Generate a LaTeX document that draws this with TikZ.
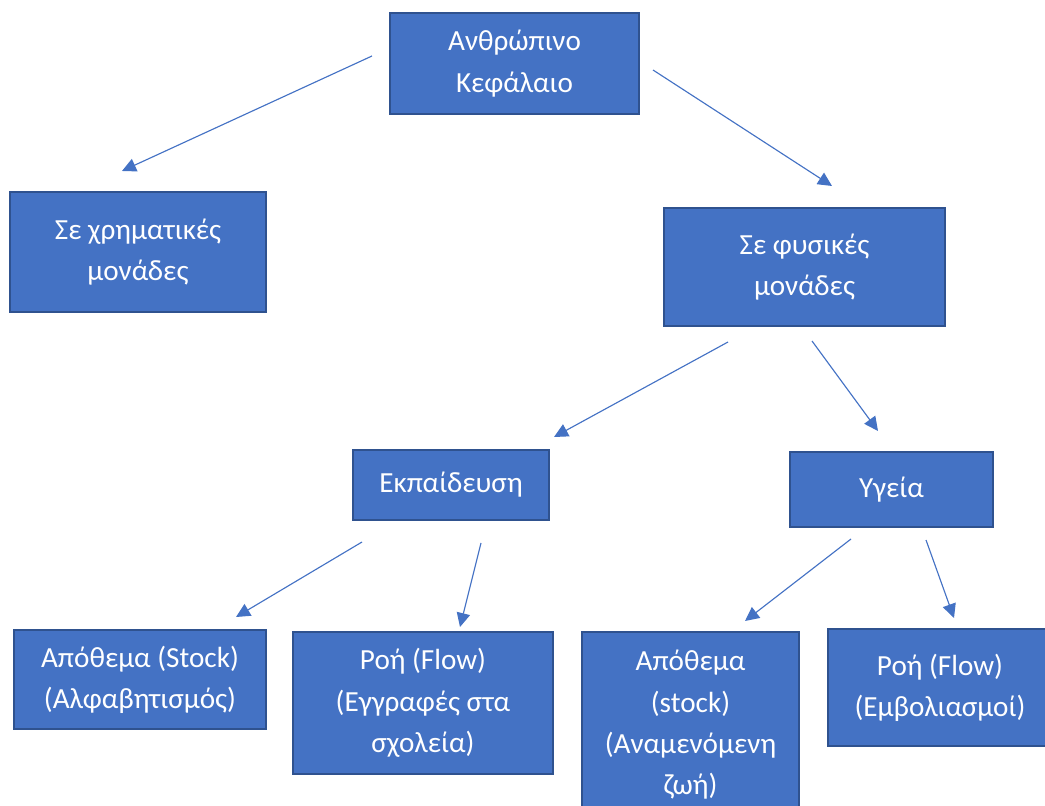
\documentclass[tikz,border=0pt]{standalone}
\usepackage{fontspec}
\setmainfont{Carlito}
\usetikzlibrary{arrows.meta}
\definecolor{boxblue}{HTML}{4472C4}
\definecolor{boxedge}{HTML}{2F528F}
\begin{document}
\begin{tikzpicture}[
        box/.style={draw=boxedge,line width=1.1pt,fill=boxblue,text=white,
                    align=center,inner sep=0pt,
                    font=\fontsize{16.6}{23.5}\selectfont},
        link/.style={draw=boxblue,line width=0.65pt,
                     -{Triangle[length=0.28cm,width=0.27cm]}}]
                            % Frame
                            \useasboundingbox (0,0) rectangle (20.9,16.1);

                            % Boxes
                            \node[box,minimum width=4.98cm,minimum height=2.02cm] (capital) at (10.29,14.83) {Ανθρώπινο\\Κεφάλαιο};
                            \node[box,minimum width=5.12cm,minimum height=2.40cm] (money) at (2.76,11.06) {Σε χρηματικές\\μονάδες};
                            \node[box,minimum width=5.62cm,minimum height=2.36cm] (physical) at (16.09,10.76) {Σε φυσικές\\μονάδες};
                            \node[box,minimum width=3.92cm,minimum height=1.40cm] (education) at (9.02,6.40) {Εκπαίδευση};
                            \node[box,minimum width=4.06cm,minimum height=1.50cm] (health) at (17.83,6.31) {Υγεία};
                            \node[box,minimum width=5.04cm,minimum height=1.98cm] (edustock) at (2.80,2.51) {Απόθεμα (Stock)\\(Αλφαβητισμός)};
                            \node[box,minimum width=5.20cm,minimum height=2.84cm] (eduflow) at (8.46,2.04) {Ροή (Flow)\\(Εγγραφές στα\\σχολεία)};
                            \node[box,minimum width=4.34cm,minimum height=3.72cm] (healthstock) at (13.81,1.60) {Απόθεμα\\(stock)\\(Αναμενόμενη\\ζωή)};
                            \node[box,minimum width=4.48cm,minimum height=2.34cm] (healthflow) at (18.80,2.35) {Ροή (Flow)\\(Εμβολιασμοί)};

                            % Arrow ends
                            \coordinate (a1s) at (7.44,14.98);  \coordinate (a1e) at (2.44,12.68);
                            \coordinate (a2s) at (13.06,14.70); \coordinate (a2e) at (16.64,12.38);
                            \coordinate (a3s) at (14.56,9.26);  \coordinate (a3e) at (11.08,7.36);
                            \coordinate (a4s) at (16.24,9.28);  \coordinate (a4e) at (17.56,7.48);
                            \coordinate (a5s) at (7.24,5.26);   \coordinate (a5e) at (4.72,3.76);
                            \coordinate (a6s) at (9.62,5.24);   \coordinate (a6e) at (9.20,3.56);
                            \coordinate (a7s) at (17.02,5.32);  \coordinate (a7e) at (14.90,3.68);
                            \coordinate (a8s) at (18.52,5.30);  \coordinate (a8e) at (19.08,3.74);

                            % Arrows
                            \foreach \i in {1,...,8}
                                \draw[link] (a\i s) -- (a\i e);
                      \end{tikzpicture}
\end{document}
